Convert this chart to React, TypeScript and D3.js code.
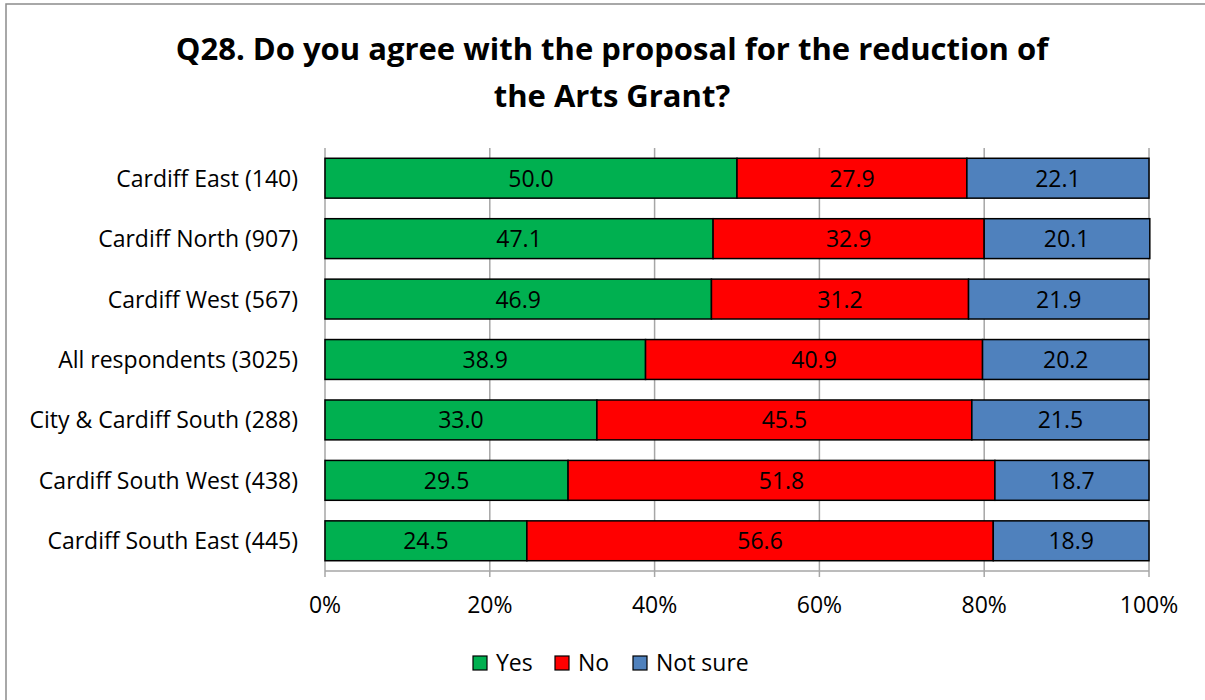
import React from "react";
import * as d3 from "d3";

const categories = [
  "Cardiff East (140)",
  "Cardiff North (907)",
  "Cardiff West (567)",
  "All respondents (3025)",
  "City & Cardiff South (288)",
  "Cardiff South West (438)",
  "Cardiff South East (445)",
];
const yesValues = [50.0, 47.1, 46.9, 38.9, 33.0, 29.5, 24.5];
const noValues = [27.9, 32.9, 31.2, 40.9, 45.5, 51.8, 56.6];
const notSureValues = [22.1, 20.1, 21.9, 20.2, 21.5, 18.7, 18.9];
const seriesNames = ["Yes", "No", "Not sure"];
const seriesColors = ["#00B050", "#FF0000", "#4F81BD"];
const xTicks = [0, 20, 40, 60, 80, 100];

const FONT = "'Open Sans', sans-serif";

export default function App() {
  const W = 1205, H = 700;
  const left = 325, right = 1149, top = 148, bottom = 571;
  const x = d3.scaleLinear().domain([0, 100]).range([left, right]);
  const y = d3.scaleBand().domain(categories).range([top, bottom]).paddingInner(0.34).paddingOuter(0.17);
  const series = [yesValues, noValues, notSureValues];

  const rows = categories.map((c, i) => {
    let acc = 0;
    return series.map((s, k) => {
      const v = s[i];
      const x0 = acc;
      acc += v;
      return { c, k, v, x0, x1: acc };
    });
  });

  const legendX = [473, 555, 633];
  const FS = 23;

  return (
    <svg width={W} height={H} style={{ position: "absolute", left: 0, top: 0 }} fontFamily={FONT}>
      <rect x={0} y={0} width={W} height={H} fill="#fff" />
      <rect x={6} y={4} width={W + 10} height={H + 10} fill="none" stroke="#8c8c8c" strokeWidth={1.5} />
      <text x={612} y={60} textAnchor="middle" fontSize={31} fontWeight="bold">
        Q28. Do you agree with the proposal for the reduction of
      </text>
      <text x={612} y={107} textAnchor="middle" fontSize={31} fontWeight="bold">
        the Arts Grant?
      </text>
      {xTicks.map((t) => (
        <line key={t} x1={x(t)} x2={x(t)} y1={top} y2={bottom} stroke="#a6a6a6" strokeWidth={1.5} />
      ))}
      <line x1={left} x2={right} y1={bottom} y2={bottom} stroke="#a6a6a6" strokeWidth={1.5} />
      {xTicks.map((t) => (
        <line key={"tk" + t} x1={x(t)} x2={x(t)} y1={bottom} y2={bottom + 6} stroke="#a6a6a6" strokeWidth={1.5} />
      ))}
      {rows.map((segs) =>
        segs.map((s) => (
          <g key={s.c + s.k}>
            <rect
              x={x(s.x0)}
              y={y(s.c)!}
              width={x(s.x1) - x(s.x0)}
              height={y.bandwidth()}
              fill={seriesColors[s.k]}
              stroke="#000"
              strokeWidth={1.5}
            />
            <text
              x={(x(s.x0) + x(Math.min(s.x1, 100))) / 2}
              y={y(s.c)! + y.bandwidth() / 2 + 8.5}
              textAnchor="middle"
              fontSize={FS}
              fill="#000"
            >
              {s.v.toFixed(1)}
            </text>
          </g>
        ))
      )}
      {categories.map((c) => (
        <text key={c} x={298} y={y(c)! + y.bandwidth() / 2 + 8.5} textAnchor="end" fontSize={FS}>
          {c}
        </text>
      ))}
      {xTicks.map((t) => (
        <text key={"l" + t} x={x(t)} y={613} textAnchor="middle" fontSize={FS}>
          {t}%
        </text>
      ))}
      {seriesNames.map((n, k) => (
        <g key={n}>
          <rect x={legendX[k]} y={656} width={14} height={14} fill={seriesColors[k]} stroke="#000" strokeWidth={1.2} />
          <text x={legendX[k] + 23} y={671} fontSize={FS}>
            {n}
          </text>
        </g>
      ))}
    </svg>
  );
}
